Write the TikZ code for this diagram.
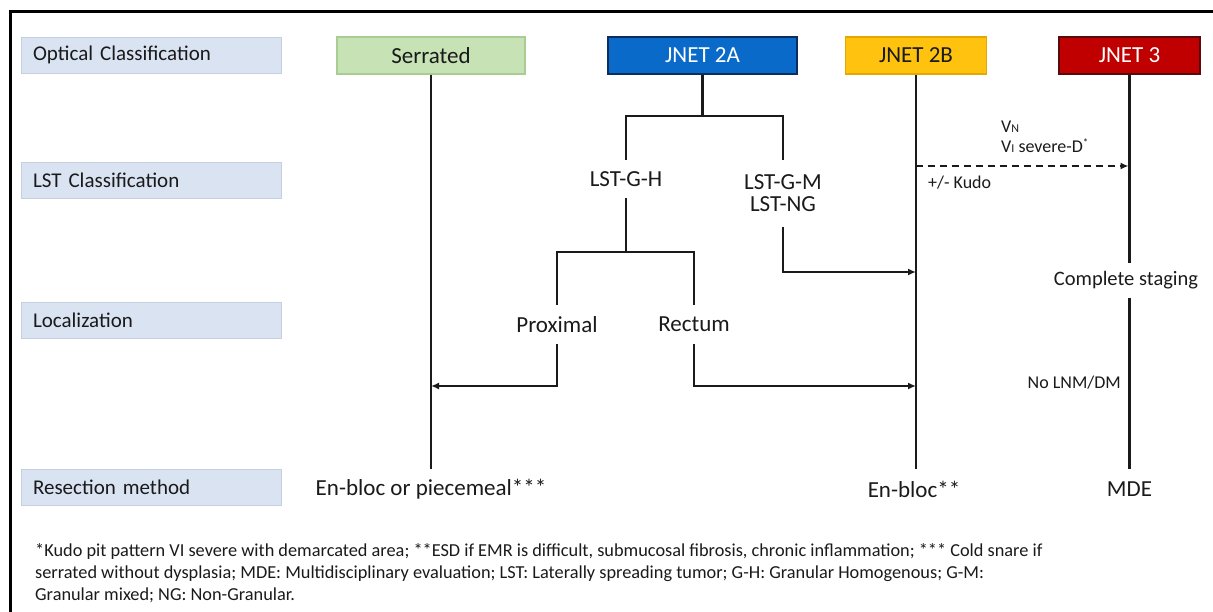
\documentclass[tikz,border=0pt]{standalone}
\usepackage{fontspec}
\setmainfont{Carlito}
\usetikzlibrary{arrows.meta}
\definecolor{labfill}{HTML}{DAE3F2}
\definecolor{labline}{HTML}{C5CFDF}
\definecolor{serfill}{HTML}{C7E3B6}
\definecolor{serline}{HTML}{A8CC92}
\definecolor{bluefill}{HTML}{0A6AC9}
\definecolor{blueline}{HTML}{0B2E5E}
\definecolor{yelfill}{HTML}{FFC20E}
\definecolor{yelline}{HTML}{E3A900}
\definecolor{redfill}{HTML}{C00000}
\definecolor{redline}{HTML}{5A0A0A}
\definecolor{ink}{HTML}{1A1A1A}
\definecolor{framec}{HTML}{2A2A2A}
\begin{document}
\begin{tikzpicture}[x=1pt,y=-1pt,
  lab/.style={draw=labline, fill=labfill, minimum width=260pt, minimum height=36pt,
    text width=236pt, inner xsep=12pt, inner ysep=0pt, align=left,
    font=\fontsize{21}{25}\selectfont, text=ink},
  topbox/.style={minimum height=37pt, inner sep=0pt, font=\fontsize{23}{27}\selectfont, line width=1.2pt},
  txt/.style={inner sep=0pt, font=\fontsize{23}{27}\selectfont, text=ink},
  smalltxt/.style={inner sep=0pt, font=\fontsize{18}{20}\selectfont, text=ink},
  foot/.style={inner sep=0pt, font=\fontsize{18.3}{22}\selectfont, text=ink, align=left},
  conn/.style={line width=2.5pt, draw=ink},
  arr/.style={conn, -{Latex[length=8pt,width=7pt]}}
]
\useasboundingbox (0,0) rectangle (1213,612);

% left labels
\node[lab] (l1) at (151,55) {Optical Classification};
\node[lab] (l2) at (151,180) {LST Classification};
\node[lab] (l3) at (151,320.5) {Localization};
\node[lab] (l4) at (151,487.5) {Resection method};

% top boxes
\node[topbox, fill=serfill, draw=serline, minimum width=188pt, text=ink] (ser) at (431,55.5) {Serrated};
\node[topbox, fill=bluefill, draw=blueline, minimum width=189pt, text=white] (j2a) at (702.5,55.5) {JNET 2A};
\node[topbox, fill=yelfill, draw=yelline, minimum width=141pt, text=ink] (j2b) at (916,55.5) {JNET 2B};
\node[topbox, fill=redfill, draw=redline, minimum width=141pt, text=white] (j3) at (1129.5,55.5) {JNET 3};

% text nodes
\node[txt, minimum height=38pt] (lgh) at (626,179) {LST-G-H};
\node[txt, minimum height=67pt, align=center, font=\fontsize{23}{22}\selectfont] (lgm) at (783,193.5) {LST-G-M\\LST-NG};
\node[txt, minimum height=39pt] (prox) at (557,324.5) {Proximal};
\node[txt, minimum height=39pt] (rect) at (694,324.5) {Rectum};
\node[txt, minimum height=35pt, font=\fontsize{20.5}{24}\selectfont] (cst) at (1126,280.5) {Complete staging};
\node[txt, minimum height=40pt] (eb1) at (431,489) {En-bloc or piecemeal***};
\node[txt, minimum height=40pt] (eb2) at (914,489) {En-bloc**};
\node[txt, minimum height=40pt] (mde) at (1129.5,489) {MDE};

\node[smalltxt, anchor=west, align=left, font=\fontsize{18}{20}\selectfont] (vn) at (1001,137)
  {V{\fontsize{12}{12}\selectfont N}\\V{\fontsize{12}{12}\selectfont I} severe-D\raisebox{6pt}{\fontsize{11}{11}\selectfont *}};
\node[smalltxt, anchor=west] (kudo) at (928,183) {+/- Kudo};
\node[smalltxt, anchor=east] (nolnm) at (1121,383) {No LNM/DM};

\node[foot, anchor=north west] (fn) at (35,543)
 {*Kudo pit pattern VI severe with demarcated area; **ESD if EMR is difficult, submucosal fibrosis, chronic inflammation; *** Cold snare if\\
  serrated without dysplasia; MDE: Multidisciplinary evaluation; LST: Laterally spreading tumor; G-H: Granular Homogenous; G-M:\\
  Granular mixed; NG: Non-Granular.};

% coordinates for free ends
\coordinate (f1) at (702.5,116);
\coordinate (f2) at (626,252);
\coordinate (serhit) at (431,386);
\coordinate (j2bhit1) at (916,272);
\coordinate (j2bhit2) at (916,386);
\coordinate (dstart) at (916,166);
\coordinate (dend) at (1129.5,166);

% connectors
\draw[conn] (ser.south) -- (eb1.north);
\draw[conn] (j2a.south) -- (f1);
\draw[conn] (lgh.north) |- (f1) -| (lgm.north);
\draw[conn] (lgh.south) -- (f2);
\draw[conn] (prox.north) |- (f2) -| (rect.north);
\draw[arr] (prox.south) |- (serhit);
\draw[arr] (rect.south) |- (j2bhit2);
\draw[arr] (lgm.south) |- (j2bhit1);
\draw[conn] (j2b.south) -- (j2b.south |- eb2.north);
\draw[conn] (j3.south) -- (j3.south |- cst.north);
\draw[conn] (j3.south |- cst.south) -- (mde.north);
\draw[arr, dash pattern=on 7pt off 5pt, shorten >=1pt] (dstart) -- (dend);

% outer frame (only top and left edges fall inside the picture)
\coordinate (fbl) at (10,612);
\coordinate (ftl) at (10,12);
\coordinate (ftr) at (1213,12);
\draw[black, line width=3pt] (fbl) -- (ftl) -- (ftr);
\end{tikzpicture}
\end{document}
